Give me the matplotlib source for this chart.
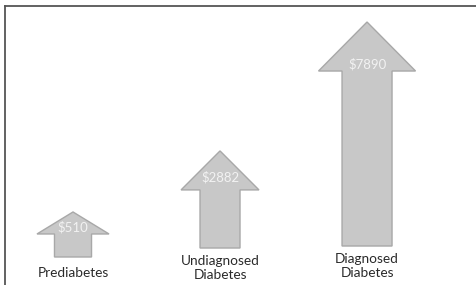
import matplotlib
matplotlib.use("Agg")
import matplotlib.pyplot as plt
from matplotlib.lines import Line2D

# ---- data ----
categories = ["Prediabetes", "Undiagnosed\nDiabetes", "Diagnosed\nDiabetes"]
values = [510, 2882, 7890]
value_labels = ["$510", "$2882", "$7890"]

# ---- style (arrow geometry, not data) ----
baselines = [-1239, -890, -812]        # shaft bottoms in value units
shaft_widths = [0.252, 0.272, 0.34]
head_widths = [0.49, 0.53, 0.66]
head_lengths = [855, 1515, 1904]
value_offsets = [583, 1010, 1632]      # value label below tip
label_offsets = [622, 777, 777]        # category label centre below baseline

fill = "#c8c8c8"
edge = "#a8a8a8"

fig = plt.figure(figsize=(4.77, 2.85), dpi=100)
ax = fig.add_axes([0, 0, 1, 1])
ax.set_xlim(-0.4966, 2.748)
ax.set_ylim(-2327, 8745)
ax.axis("off")

for i, (v, b) in enumerate(zip(values, baselines)):
    ax.arrow(i, b, 0, v - b, width=shaft_widths[i], head_width=head_widths[i],
             head_length=head_lengths[i], length_includes_head=True,
             facecolor=fill, edgecolor=edge, linewidth=1.0, zorder=2)
    ax.text(i, v - value_offsets[i], value_labels[i], ha="center", va="center",
            color="#f2f2f2", fontsize=9.5, family="Lato", zorder=3)
    ax.text(i, b - label_offsets[i], categories[i], ha="center", va="center",
            color="#2a2a2a", fontsize=9.8, family="Lato", linespacing=1.2, zorder=3)

# frame lines (left and top)
fig.add_artist(Line2D([5.5 / 477, 5.5 / 477], [0, 1 - 5.5 / 285], transform=fig.transFigure,
                      color="#555555", linewidth=1.3))
fig.add_artist(Line2D([5.5 / 477, 1], [1 - 5.5 / 285, 1 - 5.5 / 285], transform=fig.transFigure,
                      color="#555555", linewidth=1.3))

fig.savefig("out.png", dpi=100)
